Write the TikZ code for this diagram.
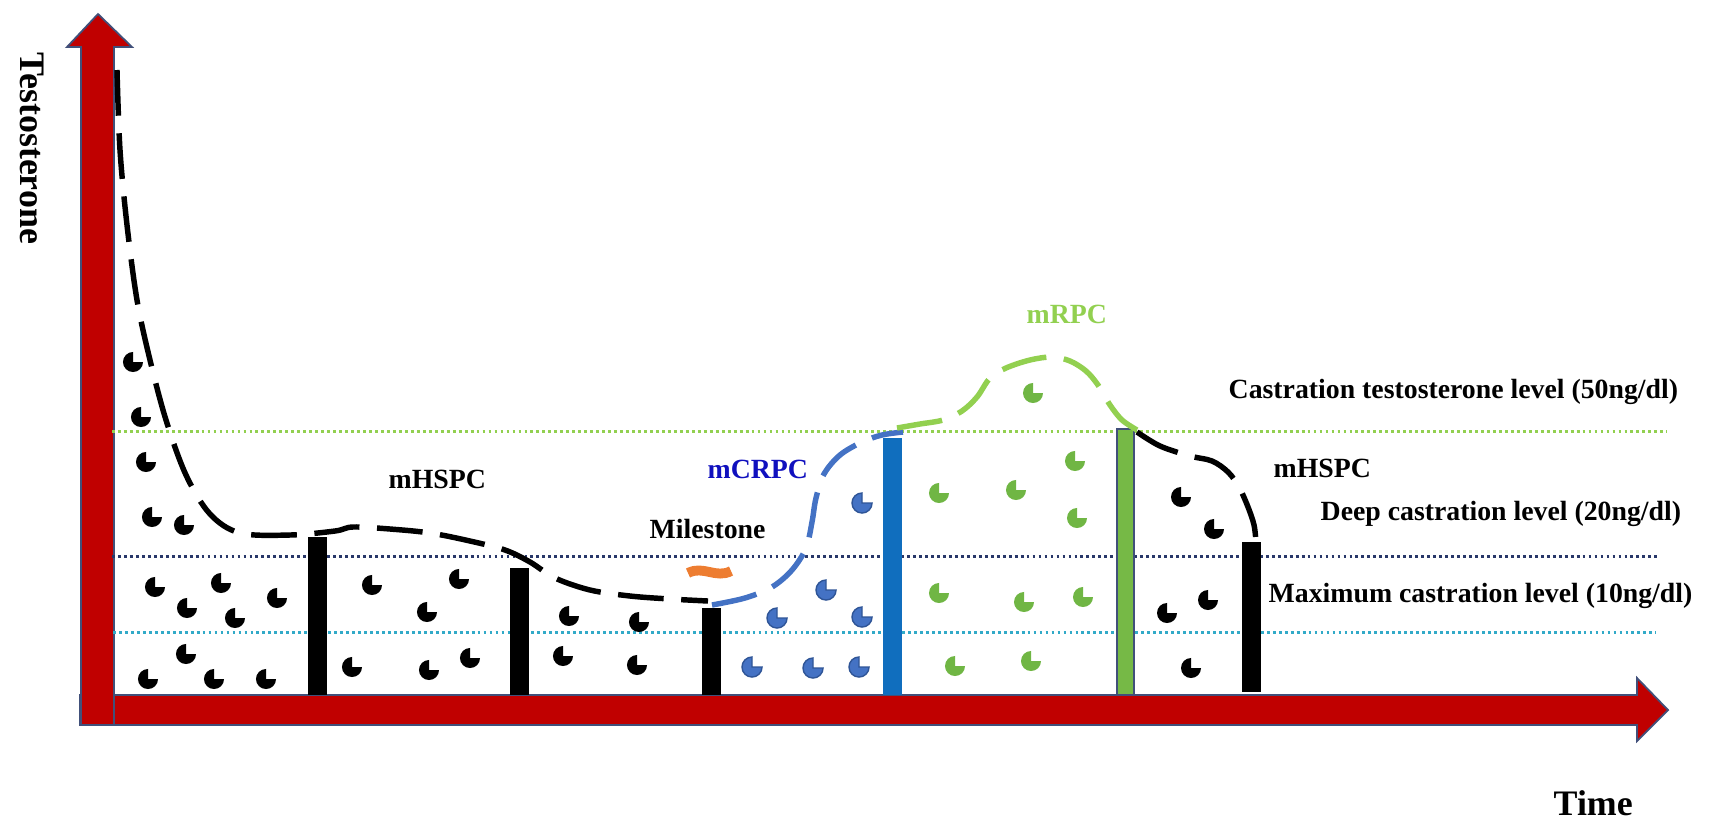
\documentclass[tikz,border=0pt]{standalone}
\usepackage{fontspec}
\setmainfont{Liberation Serif}
\definecolor{axred}{RGB}{192,0,0}
\definecolor{axline}{RGB}{65,80,122}
\definecolor{lgreen}{RGB}{146,208,80}
\definecolor{navyd}{RGB}{40,55,105}
\definecolor{tealc}{RGB}{50,170,200}
\definecolor{barblue}{RGB}{16,110,190}
\definecolor{bargreen}{RGB}{118,185,70}
\definecolor{cblue}{RGB}{68,114,196}
\definecolor{cblueo}{RGB}{47,85,151}
\definecolor{pgreen}{RGB}{112,182,68}
\definecolor{orng}{RGB}{237,125,49}
\definecolor{tblue}{RGB}{16,16,190}
\newcommand\pacman[3]{\filldraw[#1] (#2,#3) -- ++(90:2.85pt) arc[start angle=90,end angle=360,radius=2.85pt] -- cycle;}
\tikzset{
  lbl/.style={font=\fontsize{7.9}{9}\selectfont\bfseries, inner sep=0pt, anchor=base west},
  axlbl/.style={font=\fontsize{10.2}{12}\selectfont\bfseries, inner sep=0pt, anchor=base west},
  curve/.style={line width=1.55pt, dash pattern=on 13pt off 5pt},
  lvl/.style={line width=0.85pt, dash pattern=on 0.8pt off 0.9pt},
  axisarrow/.style={fill=axred, draw=axline, line width=0.5pt},
  barblk/.style={fill=black},
  pblack/.style={fill=black, draw=none},
  pblue/.style={fill=cblue, draw=cblueo, line width=0.4pt},
  pgrn/.style={fill=pgreen, draw=none}
}
\begin{document}
\begin{tikzpicture}[x=0.01cm, y=-0.01cm]
\useasboundingbox (0,0) rectangle (1710,830);
% axes
\filldraw[axisarrow] (80,695) -- (1637,695) -- (1637,678) -- (1668,710) -- (1637,741) -- (1637,725) -- (80,725) -- cycle;
\filldraw[axisarrow] (81,725) -- (81,47) -- (67,47) -- (98,14) -- (132,47) -- (114,47) -- (114,725) -- cycle;
% level lines
\draw[lvl, lgreen] (112,431) -- (1667,431);
\draw[lvl, navyd] (112,556) -- (1658,556);
\draw[lvl, tealc] (113,632) -- (1656,632);
% bars
\fill[barblk] (308,537) rectangle (327,695);
\fill[barblk] (510,568) rectangle (529,695);
\fill[barblk] (702,608) rectangle (721,695);
\fill[barblue] (883,438) rectangle (902,695);
\filldraw[fill=bargreen, draw=axline, line width=0.6pt] (1117,429) rectangle (1134,695);
\fill[barblk] (1242,542) rectangle (1261,692);
% curves
\draw[curve] plot[smooth, tension=0.55] coordinates {(117,70) (120,150) (127,225) (137,300) (150,360) (166,420) (186,475) (210,514) (240,533) (290,535) (335,531) (353,527) (390,529) (430,533) (470,541) (505,550) (530,562) (555,578) (590,590) (630,596) (670,599) (708,601)};
\draw[curve, cblue] plot[smooth, tension=0.55] coordinates {(712,605) (745,598) (772,587) (792,570) (806,548) (812,522) (816,498) (824,474) (840,455) (862,442) (882,435) (903,432)};
\draw[curve, lgreen] plot[smooth, tension=0.55] coordinates {(897,428) (920,424) (943,420) (962,411) (977,397) (990,378) (1006,368) (1030,360) (1052,357) (1070,361) (1086,371) (1098,385) (1110,405) (1122,420) (1137,430)};
\draw[curve] plot[smooth, tension=0.55] coordinates {(1137,432) (1160,446) (1190,456) (1212,461) (1228,472) (1239,487) (1248,507) (1254,525) (1256,542)};
% milestone mark
\draw[orng, line width=2.8pt] (688,573) .. controls (703,565) and (716,579) .. (731,571);
% black pacs
\pacman{pblack}{133}{362}
\pacman{pblack}{141}{417}
\pacman{pblack}{146}{462}
\pacman{pblack}{152}{517}
\pacman{pblack}{184}{525}
\pacman{pblack}{155}{587}
\pacman{pblack}{221}{583}
\pacman{pblack}{187}{608}
\pacman{pblack}{235}{618}
\pacman{pblack}{277}{598}
\pacman{pblack}{186}{654}
\pacman{pblack}{148}{679}
\pacman{pblack}{214}{679}
\pacman{pblack}{266}{679}
\pacman{pblack}{372}{585}
\pacman{pblack}{459}{579}
\pacman{pblack}{427}{612}
\pacman{pblack}{352}{667}
\pacman{pblack}{429}{670}
\pacman{pblack}{470}{658}
\pacman{pblack}{569}{616}
\pacman{pblack}{639}{622}
\pacman{pblack}{563}{656}
\pacman{pblack}{637}{665}
\pacman{pblack}{1181}{497}
\pacman{pblack}{1214}{529}
\pacman{pblack}{1208}{600}
\pacman{pblack}{1167}{613}
\pacman{pblack}{1191}{668}
% blue pacs
\pacman{pblue}{826}{590}
\pacman{pblue}{777}{618}
\pacman{pblue}{862}{617}
\pacman{pblue}{862}{503}
\pacman{pblue}{752}{667}
\pacman{pblue}{813}{668}
\pacman{pblue}{859}{667}
% green pacs
\pacman{pgrn}{939}{493}
\pacman{pgrn}{1016}{490}
\pacman{pgrn}{1075}{461}
\pacman{pgrn}{1077}{518}
\pacman{pgrn}{939}{593}
\pacman{pgrn}{1024}{602}
\pacman{pgrn}{1083}{597}
\pacman{pgrn}{955}{666}
\pacman{pgrn}{1031}{661}
\pacman{pgrn}{1033}{393}
% labels
\node[axlbl, rotate=-90] (ylab) at (20,52) {Testosterone};
\node[axlbl] (xlab) at (1553,815) {Time};
\node[lbl] (l50) at (1228,398) {Castration testosterone level (50ng/dl)};
\node[lbl] (l20) at (1320,520) {Deep castration level (20ng/dl)};
\node[lbl] (l10) at (1268,602) {Maximum castration level (10ng/dl)};
\node[lbl] (hs1) at (388,488) {mHSPC};
\node[lbl] (hs2) at (1273,477) {mHSPC};
\node[lbl] (mile) at (649,538) {Milestone};
\node[lbl, text=tblue] (crpc) at (707,478) {mCRPC};
\node[lbl, text=lgreen] (rpc) at (1026,323) {mRPC};
\end{tikzpicture}
\end{document}
